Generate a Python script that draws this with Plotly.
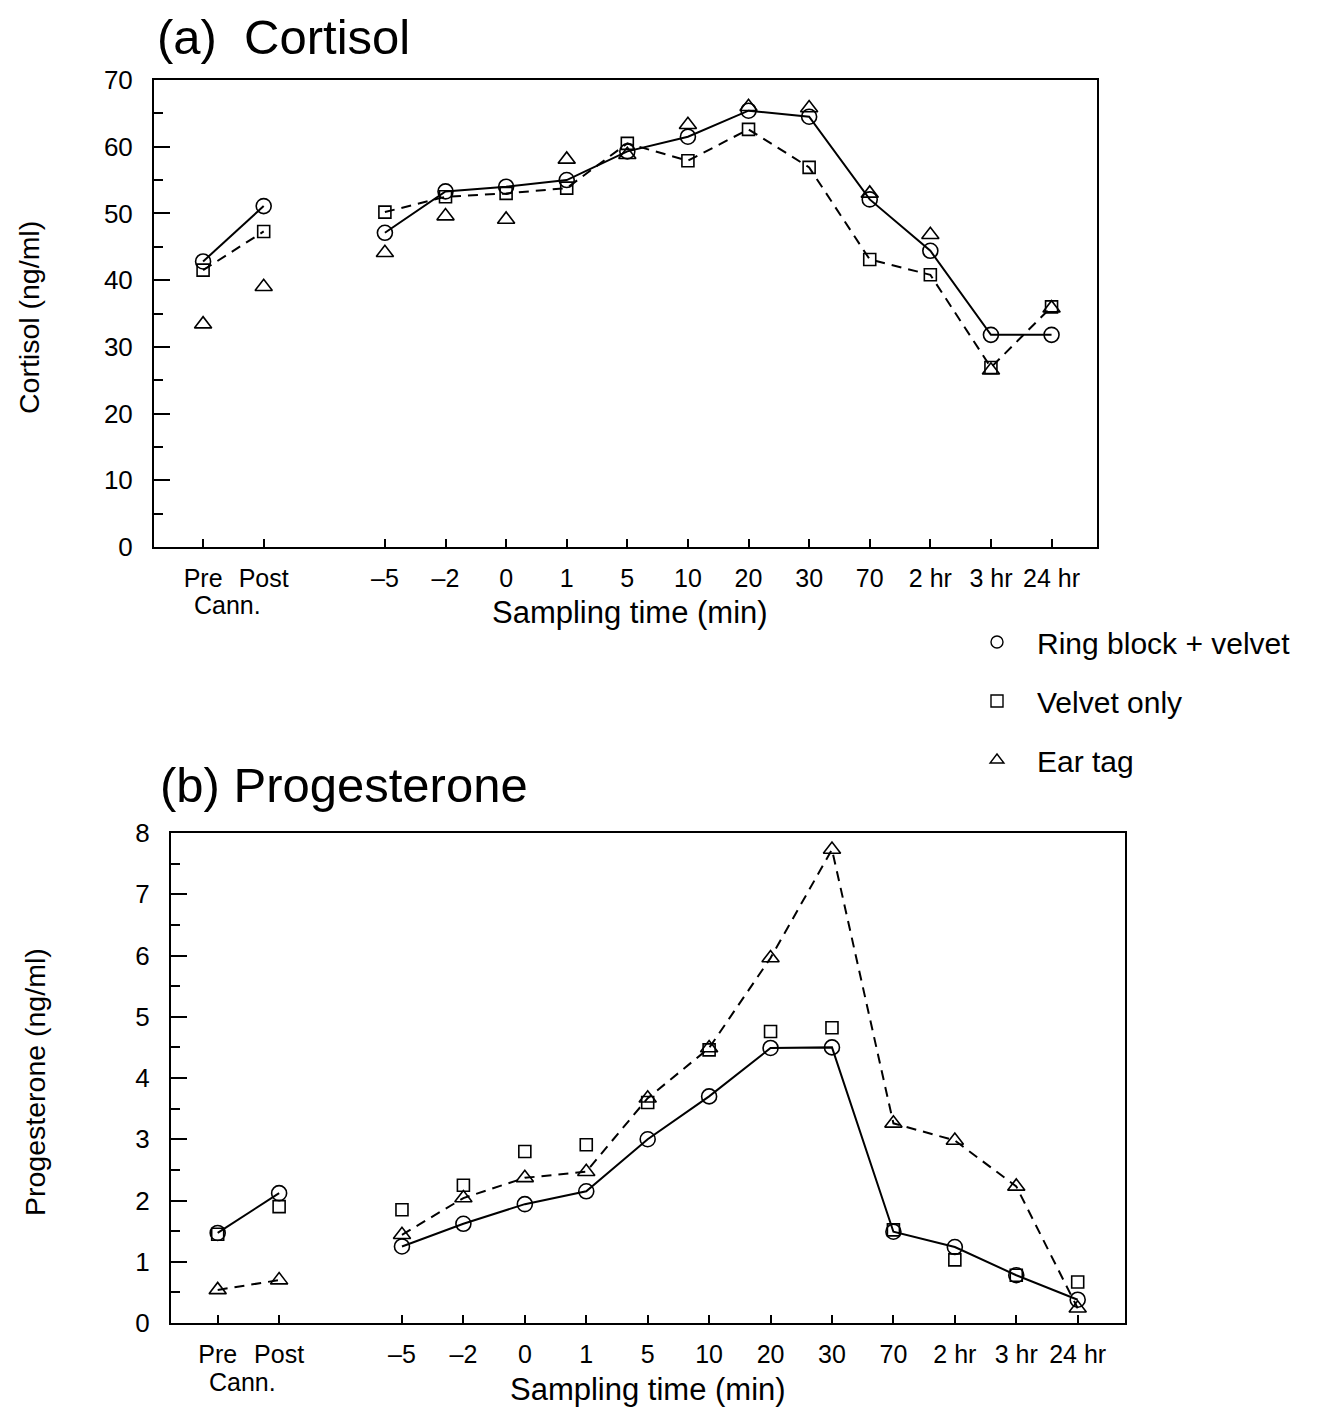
import plotly.graph_objects as go

# ---------------- data ----------------
categories = ["Pre", "Post", "", "–5", "–2", "0", "1", "5", "10", "20", "30", "70", "2 hr", "3 hr", "24 hr"]
# index 2 is an empty gap slot (no data, breaks lines)

# (a) Cortisol (ng/ml)
cort_ring   = [42.8, 51.1, None, 47.1, 53.3, 54.0, 55.0, 59.3, 61.5, 65.4, 64.5, 52.1, 44.4, 31.8, 31.8]
cort_velvet = [41.5, 47.3, None, 50.2, 52.5, 53.0, 53.8, 60.5, 57.9, 62.6, 56.9, 43.1, 40.8, 26.9, 36.0]
cort_eartag = [33.4, 39.0, None, 44.1, 49.6, 49.1, 58.1, 58.8, 63.3, 66.0, 65.8, 53.0, 46.8, 26.5, 35.8]

# (b) Progesterone (ng/ml)
prog_ring   = [1.47, 2.12, None, 1.25, 1.62, 1.94, 2.15, 3.00, 3.70, 4.49, 4.50, 1.49, 1.24, 0.78, 0.38]
prog_velvet = [1.45, 1.90, None, 1.85, 2.25, 2.80, 2.91, 3.60, 4.46, 4.76, 4.82, 1.52, 1.03, 0.78, 0.67]
prog_eartag = [0.54, 0.70, None, 1.44, 2.04, 2.37, 2.47, 3.67, 4.49, 5.96, 7.73, 3.26, 2.98, 2.23, 0.24]

series_names = ["Ring block + velvet", "Velvet only", "Ear tag"]

# ---------------- layout helpers ----------------
W, H = 1332, 1412
OFF = 8  # page offset of the figure inside the browser window
FONT = "Liberation Sans, Arial, Helvetica, sans-serif"
BLACK = "black"

xpos = list(range(len(categories)))
tick_idx = [i for i, c in enumerate(categories) if c != ""]
tickvals = [xpos[i] for i in tick_idx]
ticktext = [categories[i] for i in tick_idx]

def px_x(p):
    return (p - OFF) / W

def px_y(p):
    return 1 - (p - OFF) / H

fig = go.Figure()

def add_series(y, xa, ya, symbol, size, mode, dash=None):
    fig.add_trace(go.Scatter(
        x=xpos, y=y, xaxis=xa, yaxis=ya, mode=mode,
        connectgaps=False, showlegend=False,
        line=dict(color=BLACK, width=2, dash=dash or "solid"),
        marker=dict(symbol=symbol, size=size, color=BLACK,
                    line=dict(color=BLACK, width=1.6)),
        cliponaxis=False,
    ))

# Panel (a)
add_series(cort_velvet, "x", "y", "square-open", 12, "lines+markers", "10px,7px")
add_series(cort_ring, "x", "y", "circle-open", 15, "lines+markers")
add_series(cort_eartag, "x", "y", "triangle-up-open", 15, "markers")

# Panel (b)
add_series(prog_eartag, "x2", "y2", "triangle-up-open", 15, "lines+markers", "10px,7px")
add_series(prog_ring, "x2", "y2", "circle-open", 15, "lines+markers")
add_series(prog_velvet, "x2", "y2", "square-open", 12, "markers")

# legend entries
for i, (nm, sym) in enumerate(zip(series_names, ["circle-open", "square-open", "triangle-up-open"])):
    fig.add_trace(go.Scatter(
        x=[None], y=[None], mode="markers", name=nm, legendgroup=f"g{i}",
        marker=dict(symbol=sym, size=12, color=BLACK, line=dict(color=BLACK, width=1.4)),
        showlegend=True, xaxis="x", yaxis="y",
    ))

xaxis_common = dict(
    tickmode="array", tickvals=tickvals, ticktext=ticktext,
    ticks="inside", ticklen=8, tickwidth=2, tickcolor=BLACK,
    showline=True, linecolor=BLACK, linewidth=2, mirror=True,
    showgrid=False, zeroline=False, automargin=False,
    tickfont=dict(family=FONT, size=25, color=BLACK),
    ticklabelstandoff=8,
)
yaxis_common = dict(
    ticks="inside", ticklen=16, tickwidth=2, tickcolor=BLACK,
    showline=True, linecolor=BLACK, linewidth=2, mirror=True,
    showgrid=False, zeroline=False, automargin=False,
    tickfont=dict(family=FONT, size=26, color=BLACK),
    ticklabelstandoff=14,
)

title_font = dict(family=FONT, size=49, color=BLACK)
axis_title_font = dict(family=FONT, size=28.5, color=BLACK)
xt_font = dict(family=FONT, size=31, color=BLACK)

fig.update_layout(
    width=W, height=H,
    margin=dict(l=0, r=0, t=0, b=0, pad=0),
    paper_bgcolor="white", plot_bgcolor="white",
    font=dict(family=FONT, color=BLACK),
    xaxis=dict(domain=[px_x(154), px_x(1097)], range=[-0.81, 14.75], anchor="y", **xaxis_common),
    yaxis=dict(domain=[px_y(547), px_y(80)], range=[0, 70], anchor="x",
               tickmode="array", tickvals=[0, 10, 20, 30, 40, 50, 60, 70],
               minor=dict(ticks="inside", ticklen=9, tickwidth=2, tickcolor=BLACK, tickvals=[5, 15, 25, 35, 45, 55, 65]),
               **yaxis_common),
    xaxis2=dict(domain=[px_x(171), px_x(1125)], range=[-0.76, 14.77], anchor="y2", **xaxis_common),
    yaxis2=dict(domain=[px_y(1323), px_y(833)], range=[0, 8], anchor="x2",
                tickmode="array", tickvals=list(range(0, 9)),
                minor=dict(ticks="inside", ticklen=9, tickwidth=2, tickcolor=BLACK,
                           tickvals=[0.5, 1.5, 2.5, 3.5, 4.5, 5.5, 6.5, 7.5]),
                **yaxis_common),
    legend=dict(
        x=px_x(957), y=px_y(616), xanchor="left", yanchor="top",
        font=dict(family=FONT, size=30, color=BLACK),
        tracegroupgap=17, itemsizing="trace", itemwidth=70, bgcolor="rgba(0,0,0,0)",
    ),
    annotations=[
        dict(text="(a)  Cortisol", x=px_x(155), y=1.0, xref="paper", yref="paper",
             xanchor="left", yanchor="top", showarrow=False, font=title_font),
        dict(text="(b) Progesterone", x=px_x(158), y=px_y(785), xref="paper", yref="paper",
             xanchor="left", yanchor="middle", showarrow=False, font=title_font),
        dict(text="Cortisol (ng/ml)", x=px_x(29), y=px_y(318), xref="paper", yref="paper",
             xanchor="center", yanchor="middle", textangle=-90, showarrow=False, font=axis_title_font),
        dict(text="Progesterone (ng/ml)", x=px_x(35), y=px_y(1082), xref="paper", yref="paper",
             xanchor="center", yanchor="middle", textangle=-90, showarrow=False, font=axis_title_font),
        dict(text="Sampling time (min)", x=px_x(630), y=px_y(612), xref="paper", yref="paper",
             xanchor="center", yanchor="middle", showarrow=False, font=xt_font),
        dict(text="Sampling time (min)", x=px_x(648), y=px_y(1389), xref="paper", yref="paper",
             xanchor="center", yanchor="middle", showarrow=False, font=xt_font),
        dict(text="Cann.", x=0.4, y=px_y(605), xref="x", yref="paper",
             xanchor="center", yanchor="middle", showarrow=False,
             font=dict(family=FONT, size=25, color=BLACK)),
        dict(text="Cann.", x=0.4, y=px_y(1382), xref="x2", yref="paper",
             xanchor="center", yanchor="middle", showarrow=False,
             font=dict(family=FONT, size=25, color=BLACK)),
    ],
)

fig.write_html("out.html")
